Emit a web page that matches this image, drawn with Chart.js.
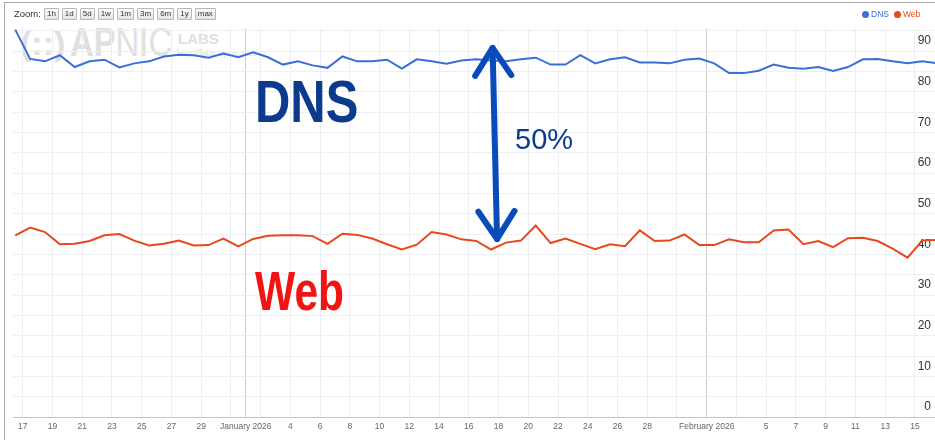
<!DOCTYPE html>
<html>
<head>
<meta charset="utf-8">
<title>DNS vs Web</title>
<script src="https://cdn.jsdelivr.net/npm/chart.js@4.4.1/dist/chart.umd.min.js"></script>
<style>
  html, body { margin: 0; padding: 0; background: #fff; }
  body { width: 935px; height: 440px; position: relative; overflow: hidden;
         font-family: "Liberation Sans", Arial, sans-serif; }
  #frame { position: absolute; left: 4px; top: 2px; width: 940px; height: 450px;
           border-left: 1px solid #a8a8a8; border-top: 1px solid #a8a8a8; }
  #wm { position: absolute; left: 0; top: 0; color: #e0e0e0; z-index: 0; }
  #wm span { position: absolute; white-space: nowrap; line-height: 1; transform-origin: 0 0; }
  #chart { position: absolute; left: 0; top: 0; z-index: 1; }
  #zoombar { position: absolute; left: 14px; top: 8px; font-size: 9.5px; color: #333; z-index: 2;
             line-height: 12px; white-space: nowrap; }
  #zoombar .btn { display: inline-block; height: 10px; line-height: 10px; font-size: 8px;
                  padding: 0 2px; margin-left: 3px; border: 1px solid #b8b8b8; border-radius: 1px;
                  background: linear-gradient(#fdfdfd, #e4e4e4); color: #333; vertical-align: 1px; }
  #legend { position: absolute; top: 9px; left: 862px; font-size: 8.5px; z-index: 2; white-space: nowrap; }
  #legend span.item { margin-right: 5px; }
  #legend i { display: inline-block; width: 7px; height: 7px; border-radius: 50%; margin-right: 2px; vertical-align: -1px; }
  .note { position: absolute; z-index: 3; white-space: nowrap; line-height: 1; transform-origin: 0 0; }
  #noteDns { left: 255px; top: 73px; font-size: 59px; font-weight: bold; color: #0c3a8c; transform: scaleX(0.83); }
  #noteWeb { left: 255px; top: 263px; font-size: 56px; font-weight: bold; color: #f01414; transform: scaleX(0.76); }
  #notePct { left: 515px; top: 125px; font-size: 29px; color: #0c3a8c; }
</style>
</head>
<body>
<div id="frame"></div>
<div id="wm">
  <span style="left:20px; top:26px; font-size:34px; font-weight:bold;">(::)</span>
  <span style="left:70px; top:22px; font-size:41px; font-weight:bold; transform:scaleX(0.8);">AP<span style="position:static; font-weight:normal;">NIC</span></span>
  <span style="left:178px; top:31px; font-size:15px; font-weight:bold;">LABS</span>
  <span style="left:177px; top:49px; font-size:9px;">http://labs.apnic.net/</span>
</div>
<canvas id="chart" width="935" height="440"></canvas>
<div id="zoombar">Zoom:<span class="btn">1h</span><span class="btn">1d</span><span class="btn">5d</span><span class="btn">1w</span><span class="btn">1m</span><span class="btn">3m</span><span class="btn">6m</span><span class="btn">1y</span><span class="btn">max</span></div>
<div id="legend"><span class="item" style="color:#3a6fd8"><i style="background:#3a6fd8"></i>DNS</span><span class="item" style="color:#e8481c"><i style="background:#e8481c"></i>Web</span></div>
<div class="note" id="noteDns">DNS</div>
<div class="note" id="notePct">50%</div>
<div class="note" id="noteWeb">Web</div>

<script>
// ---------- DATA ----------
// one sample per day, mid-day, 16 Dec 2025 .. 16 Feb 2026
// x is counted in days from 17 Dec 2025
const firstSampleDay = -0.5;

const dnsValues = [
  95.3, 88.1, 87.5, 89.0, 86.1, 87.5, 87.9, 86.0, 87.0, 87.5,
  88.7, 89.1, 89.0, 88.4, 89.4, 88.5, 89.7, 88.5, 86.7, 87.5,
  86.5, 85.9, 88.7, 87.5, 87.5, 87.9, 85.7, 88.0, 87.5, 86.9,
  87.7, 88.0, 87.7, 87.5, 88.0, 88.4, 86.7, 86.7, 89.0, 87.0,
  88.0, 88.5, 87.2, 87.2, 87.0, 87.9, 88.2, 87.0, 84.6, 84.6,
  85.2, 86.7, 85.9, 85.7, 86.1, 85.1, 86.1, 88.0, 88.1, 87.5,
  87.0, 87.5, 87.0
];

const webValues = [
  44.7, 46.6, 45.5, 42.5, 42.6, 43.3, 44.7, 45.0, 43.4, 42.2,
  42.6, 43.4, 42.2, 42.3, 43.9, 42.0, 43.8, 44.6, 44.7, 44.7,
  44.5, 42.6, 45.1, 44.8, 43.9, 42.5, 41.2, 42.4, 45.5, 44.9,
  43.7, 43.3, 41.2, 42.9, 43.4, 47.1, 42.8, 43.9, 42.6, 41.3,
  42.5, 42.0, 45.9, 43.3, 43.4, 44.9, 42.3, 42.3, 43.7, 43.0,
  43.0, 45.9, 46.1, 42.5, 43.3, 41.8, 44.0, 44.1, 43.3, 41.4,
  39.2, 43.4, 43.6
];

// x axis: grid every 2 days plus the month starts
const gridDays = [0, 2, 4, 6, 8, 10, 12, 14, 15, 16, 18, 20, 22, 24, 26, 28, 30,
  32, 34, 36, 38, 40, 42, 44, 46, 48, 50, 52, 54, 56, 58, 60];
const monthDays = [15, 46];
const tickDays = [0, 2, 4, 6, 8, 10, 12, 15, 18, 20, 22, 24, 26, 28, 30, 32, 34,
  36, 38, 40, 42, 46, 50, 52, 54, 56, 58, 60];
const tickLabels = ["17", "19", "21", "23", "25", "27", "29", "January 2026",
  "4", "6", "8", "10", "12", "14", "16", "18", "20", "22", "24", "26", "28",
  "February 2026", "5", "7", "9", "11", "13", "15"];

// y axis: grid every 5, label every 10
const yGrid = [0, 5, 10, 15, 20, 25, 30, 35, 40, 45, 50, 55, 60, 65, 70, 75, 80, 85, 90, 95];

// hand drawn arrow between the two lines: [day, value]
const arrowTop = [31.6, 90.8];
const arrowBottom = [31.9, 43.8];

// ---------- CHART ----------
const toPoints = vals => vals.map((v, i) => ({ x: firstSampleDay + i, y: v }));

const arrowPlugin = {
  id: "arrow",
  afterDatasetsDraw(chart) {
    const { ctx, scales: { x, y } } = chart;
    const x1 = x.getPixelForValue(arrowTop[0]), y1 = y.getPixelForValue(arrowTop[1]);
    const x2 = x.getPixelForValue(arrowBottom[0]), y2 = y.getPixelForValue(arrowBottom[1]);

    ctx.save();
    ctx.strokeStyle = "#0a4bbc";
    ctx.lineWidth = 6;
    ctx.lineCap = "round";
    ctx.lineJoin = "round";

    ctx.beginPath();
    ctx.moveTo(x1, y1);
    ctx.lineTo(x2, y2);
    ctx.stroke();

    const head = (tx, ty, fx, fy) => {
      const a = Math.atan2(ty - fy, tx - fx);
      const len = 33, spread = 0.58;
      ctx.beginPath();
      ctx.moveTo(tx - len * Math.cos(a - spread), ty - len * Math.sin(a - spread));
      ctx.lineTo(tx, ty);
      ctx.lineTo(tx - len * Math.cos(a + spread), ty - len * Math.sin(a + spread));
      ctx.stroke();
    };
    head(x1, y1, x2, y2);
    head(x2, y2, x1, y1);
    ctx.restore();
  }
};

new Chart(document.getElementById("chart"), {
  type: "line",
  data: {
    datasets: [
      {
        label: "DNS",
        data: toPoints(dnsValues),
        borderColor: "#3a6fd8",
        borderWidth: 2,
        pointRadius: 0,
        tension: 0
      },
      {
        label: "Web",
        data: toPoints(webValues),
        borderColor: "#e8481c",
        borderWidth: 2,
        pointRadius: 0,
        tension: 0
      }
    ]
  },
  plugins: [arrowPlugin],
  options: {
    responsive: false,
    animation: false,
    layout: { padding: { left: 13, top: 28, right: 0, bottom: 0 } },
    plugins: {
      legend: { display: false },
      tooltip: { enabled: false }
    },
    scales: {
      x: {
        type: "linear",
        min: -0.652,
        max: 61.35,
        afterFit(scale) { scale.height = 23; },
        afterBuildTicks(scale) {
          scale.ticks = gridDays.map(v => ({ value: v }));
        },
        grid: {
          drawTicks: false,
          color: c => (c.tick && monthDays.includes(c.tick.value)) ? "#cfcfcf" : "#eeeff4"
        },
        border: { display: true, color: "#c4c4c4" },
        ticks: {
          autoSkip: false,
          maxRotation: 0,
          padding: 5,
          color: "#666",
          font: { family: "Liberation Sans", size: 8.5 },
          callback(value) {
            const i = tickDays.indexOf(value);
            return i >= 0 ? tickLabels[i] : "";
          }
        }
      },
      y: {
        position: "right",
        min: 0,
        max: 95.7,
        afterFit(scale) { scale.width = 0; },
        afterBuildTicks(scale) {
          scale.ticks = yGrid.map(v => ({ value: v }));
        },
        grid: { drawTicks: false, color: "#eeeff4" },
        border: { display: false },
        ticks: {
          mirror: true,
          padding: -4,
          labelOffset: -10,
          color: "#333",
          font: { family: "Liberation Sans", size: 12 },
          callback(value) {
            return value % 10 === 0 ? String(value) : "";
          }
        }
      }
    }
  }
});
</script>
</body>
</html>
